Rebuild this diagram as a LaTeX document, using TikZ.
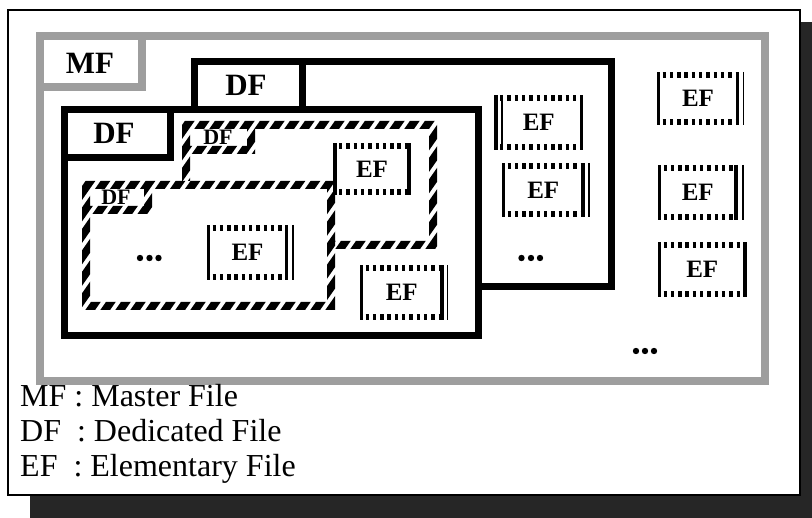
\documentclass[tikz,border=0pt]{standalone}
\usepackage{fontspec}
\setmainfont{Liberation Serif}
\tikzset{
  dfline/.style={line width=7pt, draw=black, fill=white},
  dftab/.style={line width=7pt, draw=black},
  mfline/.style={line width=8pt, draw=black!38},
  biglbl/.style={font=\fontsize{31}{31}\selectfont\bfseries, inner sep=0pt},
  smalllbl/.style={font=\fontsize{22}{22}\selectfont\bfseries, inner sep=0pt},
  eflbl/.style={font=\fontsize{25}{25}\selectfont\bfseries, inner sep=0pt},
  legend/.style={font=\fontsize{32}{32}\selectfont, anchor=base west, inner sep=0pt},
  dotrow/.style={line width=5.5pt, dash pattern=on 3.4pt off 3.9pt},
  hatchstripe/.style={line width=8pt},
  thinbar/.style={line width=1.3pt},
}
\newcommand\hatchfile[6]{%
  \fill[white] ({#1-4},{-#4-4}) rectangle ({#3+4},{-#2+4});
  \begin{scope}
    \clip ({#1-4},{-#2-4}) rectangle ({#3+4},{-#2+4})
          ({#1-4},{-#4-4}) rectangle ({#3+4},{-#4+4})
          ({#1-4},{-#4-4}) rectangle ({#1+4},{-#2+4})
          ({#3-4},{-#4-4}) rectangle ({#3+4},{-#2+4})
          ({#1-4},{-#6-4}) rectangle ({#5+4},{-#6+4})
          ({#5-4},{-#6-4}) rectangle ({#5+4},{-#2+4});
    \pgfmathtruncatemacro\hatchn{(#3-#1)/15+2}
    \foreach \k in {-8,...,\hatchn}
      \draw[hatchstripe] ({#1+\k*15},{-#4-10}) -- ++(100,143);
  \end{scope}}
\newcommand\efbox[5]{%
  \fill ({#2-1.9},{-#3}) rectangle ({#2+1.9},{-#5});
  \fill ({#4-1.9},{-#3}) rectangle ({#4+1.9},{-#5});
  \draw[dotrow] ({#2+4},{-#3-3}) -- ({#4-2},{-#3-3});
  \draw[dotrow] ({#2+4},{-#5+3}) -- ({#4-2},{-#5+3});
  \node[eflbl] (#1) at ({(#2+#4)/2},{-(#3+#5)/2}) {EF};}
\begin{document}
\begin{tikzpicture}[x=1pt,y=1pt]
\useasboundingbox (0,0) rectangle (812,-518);
% shadow
\fill[black!85] (801,-22) rectangle (812,-518);
\fill[black!85] (30,-496) rectangle (812,-518);
% outer frame
\draw[line width=2pt, fill=white] (8,-10) rectangle (800,-495);
% master file
\draw[mfline] (40,-36) rectangle (765,-381.5);
\draw[mfline] (40,-87) -| (142,-36);
\node[biglbl] (mf) at (90,-63) {MF};
% dedicated file 1 (back)
\draw[dfline] (194,-62) rectangle (611,-287);
\draw[dftab] (194,-110) -| (302,-62);
\node[biglbl] (df1) at (246,-85) {DF};
% dedicated file 2 (front)
\draw[dfline] (64,-110) rectangle (478,-336);
\draw[dftab] (64,-158) -| (170,-110);
\node[biglbl] (df2) at (114,-133) {DF};
% hatched dedicated files
\hatchfile{186}{125}{433}{245}{251}{150}
\node[smalllbl] (df3) at (218,-137) {DF};
\hatchfile{86}{185}{331}{306}{148}{210}
\node[smalllbl] (df4) at (116,-197) {DF};
% elementary files
\efbox{ef1}{335}{143}{409}{195}
\efbox{ef2}{208.5}{225}{286.5}{280}
\draw[thinbar] (293,-225) -- (293,-280);
\efbox{ef3}{361.5}{265}{442}{320}
\draw[thinbar] (447.5,-265) -- (447.5,-320);
\efbox{ef4}{496}{95}{581.5}{150}
\draw[thinbar] (502,-95) -- (502,-150);
\efbox{ef5}{503.5}{163}{583}{217}
\draw[thinbar] (589,-163) -- (589,-217);
\efbox{ef7}{658.5}{72}{737.5}{125}
\draw[thinbar] (743.5,-72) -- (743.5,-125);
\efbox{ef8}{659.5}{165}{736}{220}
\draw[thinbar] (743,-165) -- (743,-220);
\efbox{ef9}{659.5}{242}{745}{297}
% ellipses
\foreach \xx in {140,149.5,158.5} \fill (\xx,-258) circle (3.2);
\foreach \xx in {521.5,531,540} \fill (\xx,-258) circle (3.2);
\foreach \xx in {636,645,654} \fill (\xx,-351) circle (3.2);
% legend
\node[legend] (lg1) at (20,-407) {MF : Master File};
\node[legend] (lg2) at (20,-442) {DF\ \ : Dedicated File};
\node[legend] (lg3) at (20,-477) {EF\ \ : Elementary File};
\end{tikzpicture}
\end{document}
